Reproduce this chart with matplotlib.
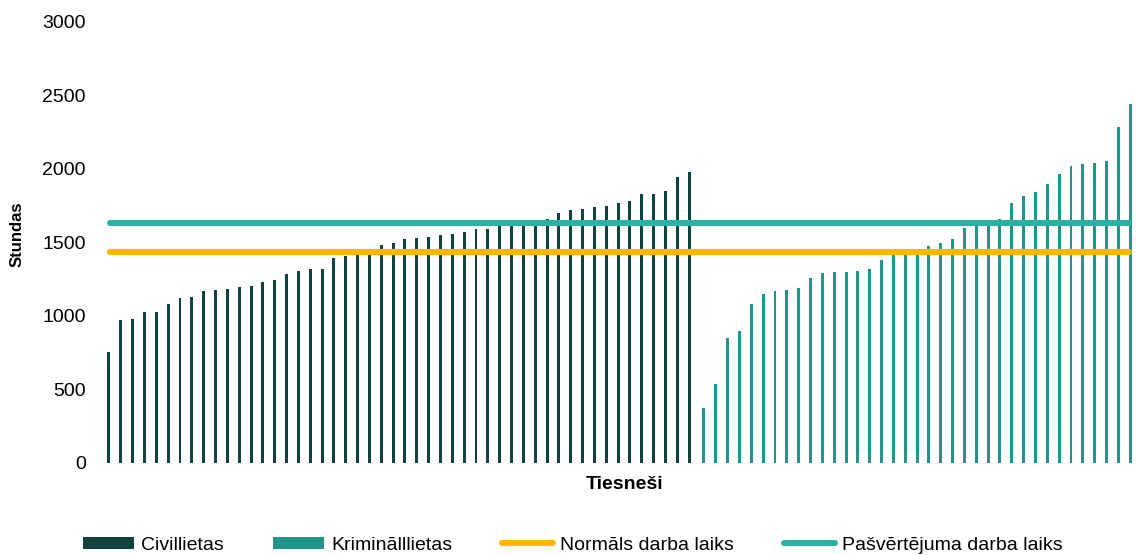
"""
Tiesnešu darba stundas: civillietas un krimināllietas
"""

import numpy as np
import matplotlib.pyplot as plt
from matplotlib.lines import Line2D
from matplotlib.patches import Patch

# ============================================================
# Dati
# ============================================================

civil_hours = [
    757, 971, 982, 1029, 1029, 1079, 1125, 1129, 1170, 1175,
    1184, 1195, 1204, 1234, 1243, 1286, 1304, 1317, 1317, 1392,
    1408, 1422, 1430, 1483, 1499, 1524, 1531, 1535, 1553, 1560,
    1571, 1589, 1594, 1610, 1615, 1620, 1625, 1660, 1701, 1721,
    1726, 1744, 1748, 1771, 1782, 1828, 1832, 1850, 1943, 1977,
]

criminal_hours = [
    376, 537, 848, 898, 1084, 1150, 1168, 1177, 1188, 1256,
    1290, 1297, 1299, 1304, 1317, 1379, 1420, 1435, 1445, 1474,
    1497, 1522, 1601, 1620, 1625, 1660, 1771, 1814, 1843, 1898,
    1964, 2018, 2032, 2041, 2054, 2283, 2442,
]

normal_hours = 1435      # Normāls darba laiks
self_eval_hours = 1633   # Pašvērtējuma darba laiks

legend_labels = ['Civillietas', 'Kriminālllietas',
                 'Normāls darba laiks', 'Pašvērtējuma darba laiks']
y_ticks = [0, 500, 1000, 1500, 2000, 2500, 3000]

# krāsas
C_CIVIL = '#12423f'
C_CRIM = '#22958a'
C_NORM = '#ffb600'
C_SELF = '#2bb0a2'

plt.rcParams['font.family'] = ['Liberation Sans', 'DejaVu Sans']

# ============================================================
# Zīmējums
# ============================================================

fig = plt.figure(figsize=(11.36, 5.55), dpi=100)
ax = fig.add_axes([0.092, 0.1658, 0.9068, 0.7946])

n_civ = len(civil_hours)
n_crim = len(criminal_hours)
cats = np.arange(n_civ + n_crim)
w = 0.25

# Excel stila grupētas kolonnas: civillietas pa kreisi, krimināllietas pa labi
ax.bar(cats[:n_civ] - w / 2, civil_hours, width=w, color=C_CIVIL)
ax.bar(cats[n_civ:] + w / 2, criminal_hours, width=w, color=C_CRIM)

ax.plot(cats, np.full(len(cats), self_eval_hours), color=C_SELF,
        linewidth=4.4, solid_capstyle='round')
ax.plot(cats, np.full(len(cats), normal_hours), color=C_NORM,
        linewidth=4.4, solid_capstyle='round')

ax.set_xlim(-0.5, len(cats) - 0.5)
ax.set_ylim(0, 3000)
ax.set_yticks(y_ticks)
ax.set_yticklabels([str(t) for t in y_ticks], fontsize=14)
ax.set_xticks([])
ax.tick_params(axis='y', length=0, pad=13.5)
for s in ax.spines.values():
    s.set_visible(False)

ax.set_ylabel('Stundas', fontsize=12, fontweight='bold')
ax.yaxis.set_label_coords(-0.0773, 0.518)
ax.set_xlabel('Tiesneši', fontsize=14, fontweight='bold')
ax.xaxis.set_label_coords(0.505, -0.0295)

handles = [
    Patch(facecolor=C_CIVIL),
    Patch(facecolor=C_CRIM),
    Line2D([0], [0], color=C_NORM, linewidth=4.4, solid_capstyle='round'),
    Line2D([0], [0], color=C_SELF, linewidth=4.4, solid_capstyle='round'),
]
fig.legend(handles, legend_labels, loc='center', bbox_to_anchor=(0.504, 0.018),
           ncol=4, frameon=False, fontsize=14, handlelength=2.63,
           handleheight=0.57, handletextpad=0.36, columnspacing=2.55,
           borderpad=0.2)

fig.savefig('out.png', dpi=100)
